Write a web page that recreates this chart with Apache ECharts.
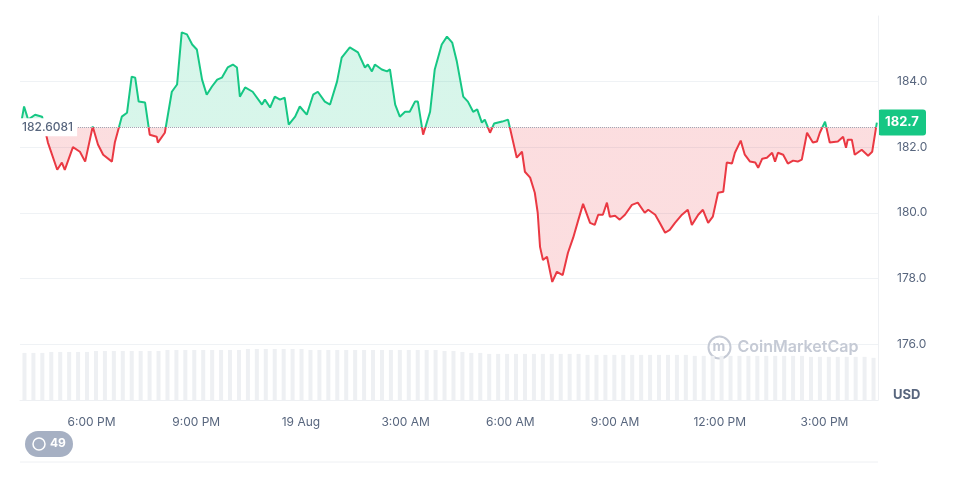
<!DOCTYPE html>
<html><head><meta charset="utf-8">
<script src="https://cdn.jsdelivr.net/npm/echarts@6/dist/echarts.min.js"></script>
<style>html,body{margin:0;padding:0;background:#fff}#c{width:974px;height:497px}</style>
</head><body><div id="c"></div>
<script>
// minutes relative to 19 Aug 00:00
const times = [-480,-476,-469,-457,-445,-435,-419,-411,-406,-392,-380,-371,-358,-349,-340,-325,-320,-308,-299,-291,-285,-279,-268,-260,-248,-246,-234,-222,-213,-205,-196,-187,-179,-170,-162,-153,-144,-136,-126,-117,-110,-105,-96,-83,-67,-62,-53,-45,-36,-28,-21,-10,-2,10,21,29,41,50,62,70,84,98,110,115,122,127,139,148,153,162,170,179,187,196,201,210,222,230,242,251,260,268,279,287,296,303,311,316,325,332,346,356,371,380,385,394,402,407,411,416,423,432,440,450,459,468,476,485,497,505,511,519,526,531,540,548,557,569,579,591,597,609,617,626,634,643,655,665,672,683,691,700,708,717,726,732,741,746,756,763,772,781,786,793,801,810,815,820,829,837,846,854,861,870,880,887,892,901,909,923,932,937,940,947,952,964,975,982,990];
const prices = [182.84,183.24,182.84,182.99,182.93,182.14,181.31,181.53,181.31,182.0,181.86,181.56,182.63,182.08,181.77,181.56,182.14,182.93,183.05,184.15,184.12,183.39,183.36,182.38,182.32,182.14,182.44,183.69,183.91,185.5,185.44,185.13,184.98,184.06,183.6,183.85,184.06,184.12,184.43,184.52,184.43,183.54,183.82,183.69,183.3,183.45,183.21,183.54,183.45,183.51,182.69,182.93,183.24,182.99,183.6,183.69,183.39,183.3,184.0,184.73,185.04,184.89,184.43,184.52,184.31,184.52,184.37,184.31,184.37,183.3,182.93,183.08,183.08,183.39,183.39,182.38,183.08,184.37,185.13,185.37,185.19,184.61,183.54,183.39,183.08,183.15,182.75,182.84,182.44,182.72,182.78,182.84,181.68,181.86,181.25,181.07,180.61,180.0,178.96,178.56,178.66,177.89,178.2,178.1,178.78,179.24,179.73,180.27,179.69,179.63,179.94,179.94,180.31,179.88,179.91,179.79,179.94,180.24,180.31,180.0,180.09,179.94,179.69,179.39,179.48,179.69,179.94,180.09,179.63,179.94,180.09,179.69,179.88,180.61,180.64,181.53,181.5,181.83,182.2,181.77,181.56,181.53,181.37,181.65,181.68,181.83,181.56,181.83,181.77,181.5,181.59,181.56,181.62,182.44,182.14,182.17,182.44,182.78,182.14,182.17,182.32,181.98,182.23,182.23,181.77,181.92,181.74,181.86,182.75];
const volumes = [48,48,48,49,49,49,49,49,50,50,50,50,50,50,50,50,51,51,51,51,51,51,51,51,51,52,52,52,52,52,52,52,51,51,51,51,51,51,51,51,51,51,51,51,51,51,51,50,50,49,48,48,47,47,47,47,47,47,47,47,47,47,47,46,46,46,46,46,46,46,46,46,46,46,46,45,45,45,45,45,45,45,45,45,45,45,45,45,44,44,44,44,44,44,44,43];
const tickValues = [-360,-180,0,180,360,540,720,900];
const tickLabels = ['6:00 PM','9:00 PM','19 Aug','3:00 AM','6:00 AM','9:00 AM','12:00 PM','3:00 PM'];
const yTicks = [176,178,180,182,184];
const baseline = 182.6081;
const lastPrice = 182.75;

const data = times.map((t,i)=>[t,prices[i]]);
const chart = echarts.init(document.getElementById('c'));
chart.setOption({
  animation:false,
  grid:[{left:20,right:96,top:16,bottom:97},{left:20,right:96,top:349,bottom:97}],
  xAxis:[{type:'value',gridIndex:0,min:-483,max:992,
    axisLine:{show:true,onZero:false,lineStyle:{color:'#eef0f3'}},
    axisTick:{show:false},splitLine:{show:false},
    axisLabel:{customValues:tickValues,formatter:v=>tickLabels[tickValues.indexOf(v)]||'',color:'#58667e',fontSize:12,fontFamily:'Inter',margin:16}},
   {type:'category',gridIndex:1,data:volumes.map((v,i)=>i),show:false}],
  yAxis:[{type:'value',gridIndex:0,position:'right',min:174.29,max:186.0,
    axisLine:{show:true,onZero:false,lineStyle:{color:'#eef0f3'}},axisTick:{show:false,customValues:yTicks},
    splitLine:{show:true,lineStyle:{color:'#eff2f5'}},
    axisLabel:{customValues:yTicks,formatter:v=>v.toFixed(1),color:'#58667e',fontSize:12,fontFamily:'Inter',margin:19}},
   {type:'value',gridIndex:1,min:0,max:52,show:false}],
  visualMap:{show:false,type:'piecewise',seriesIndex:1,dimension:1,
    pieces:[{gt:baseline,lte:300,color:'#16c784'},{gte:0,lte:baseline,color:'#ea3943'}]},
  series:[
    {type:'bar',xAxisIndex:1,yAxisIndex:1,data:volumes,barCategoryGap:'55%',itemStyle:{color:'#eef0f3'},silent:true},
    {type:'line',data:data,showSymbol:false,lineStyle:{width:2},z:3,
      areaStyle:{origin:baseline,opacity:0.17},
      markLine:{symbol:'none',silent:true,
        data:[{yAxis:baseline,lineStyle:{type:'dotted',color:'#a0a7b4',width:1},
               label:{position:'insideStart',formatter:'182.6081',color:'#58667e',fontSize:12,fontWeight:500,fontFamily:'Inter',backgroundColor:'#fff',padding:[3,4],distance:-2}}]}}]
});
const py = chart.convertToPixel({yAxisIndex:0}, lastPrice);
chart.setOption({graphic:[
    {type:'text',left:893,top:389,style:{text:'USD',fill:'#58667e',font:'bold 13px Inter'}},
    {type:'group',left:706,top:334,children:[
      {type:'circle',shape:{cx:12,cy:12,r:11},style:{fill:'none',stroke:'#c5cad5',lineWidth:2}},
      {type:'text',left:5,top:4,style:{text:'m',fill:'#c5cad5',font:'bold 14px Inter'}},
      {type:'text',left:30,top:4,style:{text:'CoinMarketCap',fill:'#c5cad5',font:'600 16px Inter'}}]},
    {type:'group',left:25,top:431,children:[
      {type:'rect',shape:{x:0,y:0,width:48,height:26,r:13},style:{fill:'#a6b0c3'}},
      {type:'circle',shape:{cx:14,cy:13,r:6},style:{fill:'none',stroke:'#fff',lineWidth:1.5}},
      {type:'text',x:25,y:6,style:{text:'49',fill:'#fff',font:'bold 12px Inter'}}]},
    {type:'line',shape:{x1:20,y1:462,x2:878,y2:462},style:{stroke:'#eef0f3',lineWidth:1}},
    {type:'group',x:878,y:py-13,z:10,children:[
      {type:'rect',shape:{x:0,y:0,width:48,height:26,r:3},style:{fill:'#16c784'}},
      {type:'text',x:24,y:13,style:{text:'182.7',fill:'#fff',font:'bold 13px Inter',align:'center',verticalAlign:'middle'}}]}
]});
</script></body></html>
